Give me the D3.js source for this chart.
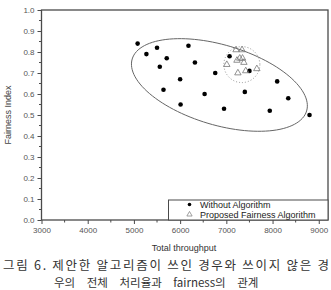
<!DOCTYPE html>
<html>
<head>
<meta charset="utf-8">
<script src="https://cdn.jsdelivr.net/npm/d3@7"></script>
<style>
body { margin: 0; background: #fff; }
svg { display: block; }
text { font-family: "Liberation Sans", Arial, sans-serif; }
</style>
</head>
<body>
<script>
// values
var withoutX = [5080, 5270, 5500, 5560, 5710, 5640, 6000, 6010, 6180, 6320,
                6530, 6760, 6950, 7070, 7500, 7400, 7940, 8100, 8340, 8800];
var withoutY = [0.84, 0.79, 0.82, 0.73, 0.77, 0.62, 0.67, 0.55, 0.83, 0.75,
                0.60, 0.70, 0.53, 0.78, 0.71, 0.61, 0.52, 0.66, 0.58, 0.50];
var proposedX = [7210, 7340, 7290, 7230, 7350, 7380, 7010, 7250, 7420, 7660];
var proposedY = [0.81, 0.81, 0.77, 0.76, 0.77, 0.75, 0.74, 0.70, 0.71, 0.72];
var xTicks = [3000, 4000, 5000, 6000, 7000, 8000, 9000];
var yTicks = [0, 0.1, 0.2, 0.3, 0.4, 0.5, 0.6, 0.7, 0.8, 0.9, 1.0];
var legendLabels = ["Without Algorithm", "Proposed Fairness Algorithm"];
var xTitle = "Total throughput";
var yTitle = "Fairness Index";
var captionLines = ["그림 6. 제안한 알고리즘이 쓰인 경우와 쓰이지 않은 경",
                    "우의 전체 처리율과 fairness의 관계"];
var bigCenter = [6850, 0.643];
var smallCenter = [7336, 0.74];

var W = 331, H = 290;
var svg = d3.select("body").append("svg")
    .attr("width", W)
    .attr("height", H);

var x = d3.scaleLinear().domain([3000, 9200]).range([41.5, 328]);
var y = d3.scaleLinear().domain([0, 1]).range([220, 10]);

var axisColor = "#4a4a4a";

// frame
svg.append("rect")
    .attr("x", x(3000)).attr("y", y(1))
    .attr("width", x(9200) - x(3000))
    .attr("height", y(0) - y(1))
    .attr("fill", "none")
    .attr("stroke", axisColor)
    .attr("stroke-width", 1.3);

// minor ticks
var xMinor = d3.range(3500, 9200, 1000);
var yMinor = d3.range(0.05, 1, 0.1);
svg.append("g").selectAll("line").data(xMinor).enter().append("line")
    .attr("x1", function (d) { return x(d); }).attr("x2", function (d) { return x(d); })
    .attr("y1", y(0)).attr("y2", y(0) + 2.5)
    .attr("stroke", axisColor).attr("stroke-width", 1);
svg.append("g").selectAll("line").data(yMinor).enter().append("line")
    .attr("y1", function (d) { return y(d); }).attr("y2", function (d) { return y(d); })
    .attr("x1", x(3000)).attr("x2", x(3000) - 2.5)
    .attr("stroke", axisColor).attr("stroke-width", 1);

var gX = svg.append("g")
    .attr("transform", "translate(0," + y(0) + ")")
    .call(d3.axisBottom(x).tickValues(xTicks).tickFormat(d3.format("d")).tickSize(4).tickSizeOuter(0).tickPadding(3));
var gY = svg.append("g")
    .attr("transform", "translate(" + x(3000) + ",0)")
    .call(d3.axisLeft(y).tickValues(yTicks).tickFormat(d3.format(".1f")).tickSize(4).tickSizeOuter(0).tickPadding(3));

[gX, gY].forEach(function (g) {
    g.select(".domain").remove();
    g.selectAll("line").attr("stroke", axisColor).attr("stroke-width", 1);
    g.selectAll("text")
        .attr("fill", "#555")
        .style("font-size", "8px")
        .style("font-family", '"Liberation Sans", Arial, sans-serif');
});

// axis titles
svg.append("text")
    .attr("x", 184).attr("y", 251)
    .attr("text-anchor", "middle")
    .attr("fill", "#333")
    .style("font-size", "9px")
    .text(xTitle);
svg.append("text")
    .attr("transform", "translate(11," + y(0.5) + ") rotate(-90)")
    .attr("text-anchor", "middle")
    .attr("fill", "#444")
    .style("font-size", "9px")
    .text(yTitle);

// big ellipse around the no-algorithm points
var angle = 16.6 * Math.PI / 180;
var bx = x(bigCenter[0]), by = y(bigCenter[1]);
var ellipsePts = d3.range(0, 360, 3).map(function (a) {
    var t = a * Math.PI / 180;
    var ex = 91 * Math.cos(t), ey = 40 * Math.sin(t);
    return [bx + ex * Math.cos(angle) - ey * Math.sin(angle),
            by + ex * Math.sin(angle) + ey * Math.cos(angle)];
});
svg.append("path")
    .attr("d", d3.line().curve(d3.curveCardinalClosed)(ellipsePts))
    .attr("fill", "none")
    .attr("stroke", "#666")
    .attr("stroke-width", 1);

// dotted circle around the proposed points
svg.append("circle")
    .attr("cx", x(smallCenter[0])).attr("cy", y(smallCenter[1]))
    .attr("r", 18)
    .attr("fill", "none")
    .attr("stroke", "#888")
    .attr("stroke-width", 0.9)
    .attr("stroke-dasharray", "1,2");

var withoutData = withoutX.map(function (v, i) { return { x: v, y: withoutY[i] }; });
var proposedData = proposedX.map(function (v, i) { return { x: v, y: proposedY[i] }; });

svg.append("g").selectAll("circle").data(withoutData).enter().append("circle")
    .attr("cx", function (d) { return x(d.x); })
    .attr("cy", function (d) { return y(d.y); })
    .attr("r", 2.3)
    .attr("fill", "#000");

var tri = d3.symbol().type(d3.symbolTriangle).size(18);
svg.append("g").selectAll("path").data(proposedData).enter().append("path")
    .attr("d", tri)
    .attr("transform", function (d) { return "translate(" + x(d.x) + "," + y(d.y) + ")"; })
    .attr("fill", "none")
    .attr("stroke", "#777")
    .attr("stroke-width", 0.8);

// legend
var legend = svg.append("g");
legend.append("rect")
    .attr("x", 168.5).attr("y", 200)
    .attr("width", x(9200) - 168.5).attr("height", y(0) - 200)
    .attr("fill", "#fff")
    .attr("stroke", axisColor)
    .attr("stroke-width", 1);
legend.append("circle")
    .attr("cx", 189.5).attr("cy", 204.5).attr("r", 1.8).attr("fill", "#000");
legend.append("path")
    .attr("d", d3.symbol().type(d3.symbolTriangle).size(12)())
    .attr("transform", "translate(189.5,214.5)")
    .attr("fill", "none").attr("stroke", "#888").attr("stroke-width", 0.8);
legend.selectAll("text.lg").data(legendLabels).enter().append("text")
    .attr("class", "lg")
    .attr("x", 200)
    .attr("y", function (d, i) { return 207.5 + i * 10; })
    .attr("fill", "#222")
    .style("font-size", "9px")
    .text(function (d) { return d; });

// caption
svg.append("text")
    .attr("x", 3).attr("y", 270)
    .attr("textLength", 326)
    .attr("lengthAdjust", "spacing")
    .attr("fill", "#333")
    .style("font-family", '"Noto Sans CJK KR", sans-serif')
    .style("font-size", "12.5px")
    .text(captionLines[0]);
svg.append("text")
    .attr("x", 54).attr("y", 286.5)
    .attr("fill", "#333")
    .style("font-family", '"Noto Sans CJK KR", sans-serif')
    .style("font-size", "11.5px")
    .style("word-spacing", "9px")
    .text(captionLines[1]);
</script>
</body>
</html>
